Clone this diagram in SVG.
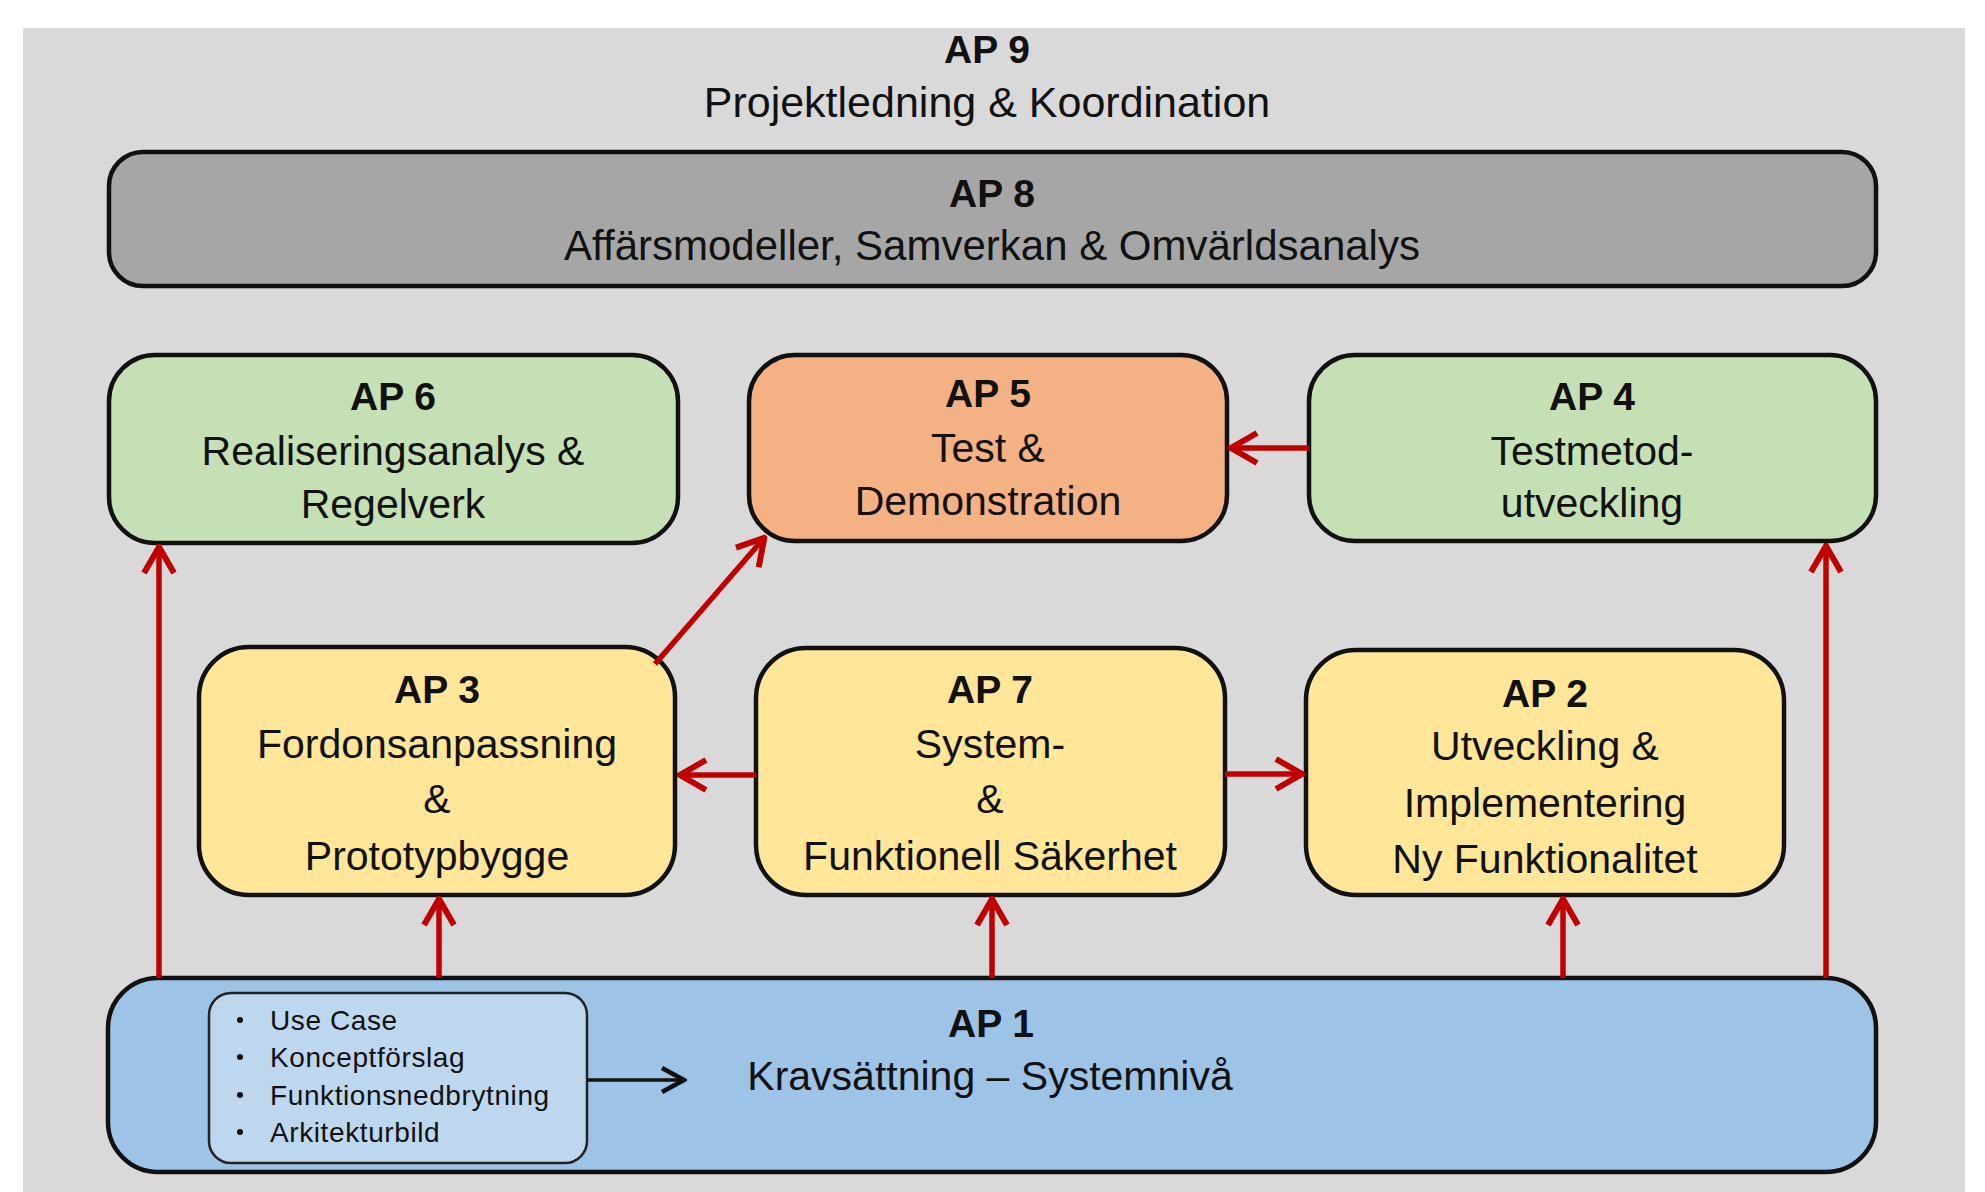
<svg xmlns="http://www.w3.org/2000/svg" width="1985" height="1192" viewBox="0 0 1985 1192">
<defs>
<style>
text{font-family:"Liberation Sans",Arial,sans-serif;fill:#111;text-anchor:middle}
.t{font-size:41px}
.b{font-size:39px;font-weight:bold}
.s{font-size:28px;letter-spacing:0.6px;text-anchor:start}
.box{stroke:#111;stroke-width:4.5}
.red{stroke:#C00000;stroke-width:5.5;fill:none}
.blk{stroke:#111;stroke-width:3.5;fill:none}
</style>
<marker id="ar" viewBox="0 0 32 36" refX="30" refY="18" markerWidth="32" markerHeight="36" markerUnits="userSpaceOnUse" orient="auto">
<path d="M3,3 L29,18 L3,33" fill="none" stroke="#C00000" stroke-width="6"/>
</marker>
<marker id="ab" viewBox="0 0 28 30" refX="26" refY="15" markerWidth="28" markerHeight="30" markerUnits="userSpaceOnUse" orient="auto">
<path d="M3,3 L25,15 L3,27" fill="none" stroke="#111" stroke-width="4.5"/>
</marker>
</defs>
<rect x="0" y="0" width="1985" height="1192" fill="#ffffff"/>
<rect x="23" y="28" width="1942" height="1164" fill="#D9D9D9"/>

<g id="ap9">
<text class="b" x="987" y="63">AP 9</text>
<text class="t" x="987" y="117" style="font-size:43px">Projektledning &amp; Koordination</text>
</g>

<g id="ap8">
<rect class="box" x="109" y="152" width="1767" height="134" rx="34" fill="#A6A6A6"/>
<text class="b" x="992" y="207">AP 8</text>
<text class="t" x="992" y="260" style="font-size:42px">Affärsmodeller, Samverkan &amp; Omvärldsanalys</text>
</g>

<g id="ap6">
<rect class="box" x="109" y="355" width="569" height="188" rx="46" fill="#C5E0B4"/>
<text class="b" x="393" y="410">AP 6</text>
<text class="t" x="393" y="465">Realiseringsanalys &amp;</text>
<text class="t" x="393" y="518">Regelverk</text>
</g>

<g id="ap5">
<rect class="box" x="749" y="355" width="478" height="186" rx="46" fill="#F4B183"/>
<text class="b" x="988" y="407">AP 5</text>
<text class="t" x="988" y="462">Test &amp;</text>
<text class="t" x="988" y="515">Demonstration</text>
</g>

<g id="ap4">
<rect class="box" x="1309" y="355" width="567" height="186" rx="46" fill="#C5E0B4"/>
<text class="b" x="1592" y="410">AP 4</text>
<text class="t" x="1592" y="465">Testmetod-</text>
<text class="t" x="1592" y="517">utveckling</text>
</g>

<g id="ap3">
<rect class="box" x="199" y="647" width="476" height="248" rx="50" fill="#FFE699"/>
<text class="b" x="437" y="703">AP 3</text>
<text class="t" x="437" y="758">Fordonsanpassning</text>
<text class="t" x="437" y="813">&amp;</text>
<text class="t" x="437" y="870">Prototypbygge</text>
</g>

<g id="ap7">
<rect class="box" x="756" y="648" width="469" height="247" rx="50" fill="#FFE699"/>
<text class="b" x="990" y="703">AP 7</text>
<text class="t" x="990" y="758">System-</text>
<text class="t" x="990" y="813">&amp;</text>
<text class="t" x="990" y="870">Funktionell Säkerhet</text>
</g>

<g id="ap2">
<rect class="box" x="1306" y="650" width="478" height="245" rx="50" fill="#FFE699"/>
<text class="b" x="1545" y="707">AP 2</text>
<text class="t" x="1545" y="760">Utveckling &amp;</text>
<text class="t" x="1545" y="817">Implementering</text>
<text class="t" x="1545" y="873">Ny Funktionalitet</text>
</g>

<g id="ap1">
<rect class="box" x="108" y="978" width="1768" height="194" rx="50" fill="#9DC3E6"/>
<text class="b" x="991" y="1037">AP 1</text>
<text class="t" x="990" y="1090">Kravsättning – Systemnivå</text>
</g>

<g id="ap1-list">
<rect x="209" y="993" width="378" height="170" rx="22" fill="#BDD7EE" stroke="#222" stroke-width="2.5"/>
<circle cx="240" cy="1020" r="3" fill="#111"/>
<circle cx="240" cy="1057" r="3" fill="#111"/>
<circle cx="240" cy="1095" r="3" fill="#111"/>
<circle cx="240" cy="1132" r="3" fill="#111"/>
<text class="s" x="270" y="1030">Use Case</text>
<text class="s" x="270" y="1067">Konceptförslag</text>
<text class="s" x="270" y="1105">Funktionsnedbrytning</text>
<text class="s" x="270" y="1142">Arkitekturbild</text>
</g>

<g id="connectors">
<line class="red" x1="159" y1="978" x2="159" y2="546" marker-end="url(#ar)"/>
<line class="red" x1="439" y1="978" x2="439" y2="898" marker-end="url(#ar)"/>
<line class="red" x1="992" y1="978" x2="992" y2="898" marker-end="url(#ar)"/>
<line class="red" x1="1563" y1="978" x2="1563" y2="898" marker-end="url(#ar)"/>
<line class="red" x1="1826" y1="978" x2="1826" y2="545" marker-end="url(#ar)"/>
<line class="red" x1="1309" y1="448" x2="1230" y2="448" marker-end="url(#ar)"/>
<line class="red" x1="756" y1="775" x2="679" y2="775" marker-end="url(#ar)"/>
<line class="red" x1="1225" y1="774" x2="1303" y2="774" marker-end="url(#ar)"/>
<line class="red" x1="655" y1="664" x2="765" y2="537" marker-end="url(#ar)"/>
<line class="blk" x1="587" y1="1080" x2="685" y2="1080" marker-end="url(#ab)"/>
</g>
</svg>
